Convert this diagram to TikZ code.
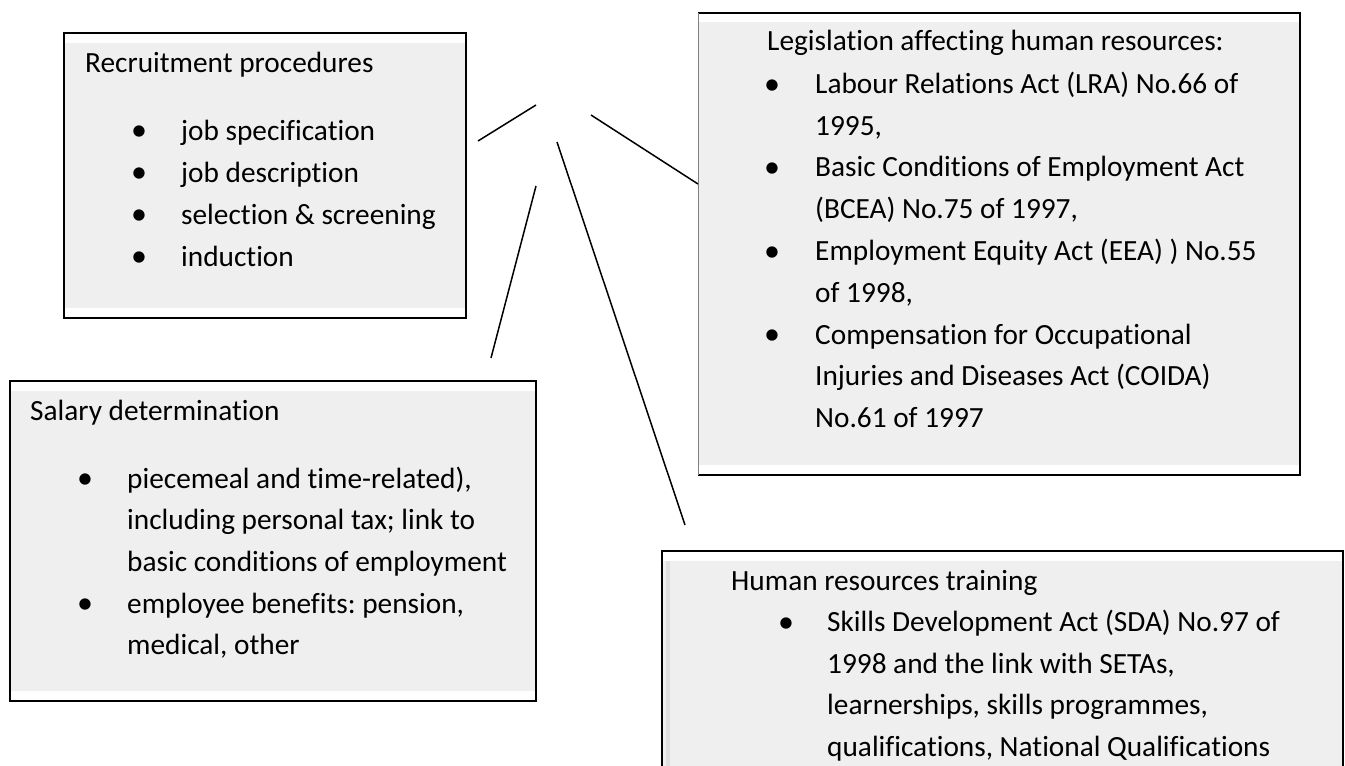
\documentclass[tikz,border=0pt]{standalone}
\usepackage{fontspec}
\setmainfont{Carlito}[Ligatures=NoCommon]
\definecolor{boxgray}{HTML}{EFEFEF}
\definecolor{edgegray}{HTML}{808080}
\frenchspacing
\begin{document}
\begin{tikzpicture}[x=1pt,y=-1pt,
  txt/.style={anchor=base west, inner sep=0pt, font=\fontsize{29.3}{41.8}\selectfont},
  bul/.style={anchor=base, inner sep=0pt, yshift=-0.8pt, font=\fontsize{32}{41.8}\selectfont},
  frame/.style={anchor=north west, inner sep=0pt, outer sep=0pt, draw=none},
  fillbox/.style={anchor=north west, inner sep=0pt, outer sep=0pt, fill=boxgray, draw=none},
  edge/.style={draw=black, line width=2pt},
  conn/.style={draw=black, line width=1.5pt}]
\useasboundingbox (0,0) rectangle (1345,766);
\clip (0,0) rectangle (1345,766);

% ---------- Box 1: Recruitment procedures
\node[fillbox, minimum width=402pt, minimum height=265pt] (f1) at (64,43) {};
\node[frame, minimum width=402pt, minimum height=285pt] (b1) at (64,33) {};
\draw[edge] (b1.north west) rectangle (b1.south east);
\node[txt] (t1) at (85,72) {Recruitment procedures};
\node[bul] (t1b1) at (139,140) {•};
\node[txt] (t1a) at (181,140) {job specification};
\node[bul] (t1b2) at (139,182) {•};
\node[txt] (t1c) at (181,182) {job description};
\node[bul] (t1b3) at (139,224) {•};
\node[txt] (t1d) at (181,224) {selection \& screening};
\node[bul] (t1b4) at (139,266) {•};
\node[txt] (t1e) at (181,266) {induction};

% ---------- Box 2: Salary determination
\node[fillbox, minimum width=526pt, minimum height=300pt] (f2) at (10,391) {};
\node[frame, minimum width=526pt, minimum height=320pt] (b2) at (10,381) {};
\draw[edge] (b2.north west) rectangle (b2.south east);
\node[txt] (t2) at (30,420) {Salary determination};
\node[bul] (t2b1) at (85,488) {•};
\node[txt] (t2a) at (127,488) {piecemeal and time-related),};
\node[txt] (t2c) at (127,529.7) {including personal tax; link to};
\node[txt] (t2d) at (127,571.4) {basic conditions of employment};
\node[bul] (t2b2) at (85,613.1) {•};
\node[txt] (t2e) at (127,613.1) {employee benefits: pension,};
\node[txt] (t2f) at (127,654.8) {medical, other};

% ---------- Box 3: Legislation
\node[fillbox, minimum width=602pt, minimum height=443pt] (f3) at (698,22) {};
\node[frame, minimum width=602pt, minimum height=462pt] (b3) at (698,13) {};
\draw[edge] (b3.north west) -- (b3.north east) -- (b3.south east) -- (b3.south west);
\draw[edgegray, line width=1pt] (b3.south west) -- (b3.north west);
\node[txt] (t3) at (767,50.7) {Legislation affecting human resources:};
\node[bul] (t3b1) at (772,93.3) {•};
\node[txt] (t3a) at (815,93.3) {Labour Relations Act (LRA) No.66 of};
\node[txt] (t3c) at (815,135.1) {1995,};
\node[bul] (t3b2) at (772,176.9) {•};
\node[txt] (t3d) at (815,176.9) {Basic Conditions of Employment Act};
\node[txt] (t3e) at (815,218.7) {(BCEA) No.75 of 1997,};
\node[bul] (t3b3) at (772,260.5) {•};
\node[txt] (t3f) at (815,260.5) {Employment Equity Act (EEA) ) No.55};
\node[txt] (t3g) at (815,302.3) {of 1998,};
\node[bul] (t3b4) at (772,344.1) {•};
\node[txt] (t3h) at (815,344.1) {Compensation for Occupational};
\node[txt] (t3i) at (815,385.9) {Injuries and Diseases Act (COIDA)};
\node[txt] (t3j) at (815,427.7) {No.61 of 1997};

% ---------- Box 4: Human resources training
\node[fillbox, minimum width=681pt, minimum height=300pt] (f4) at (662,561) {};
\node[frame, minimum width=681pt, minimum height=320pt] (b4) at (662,551) {};
\draw[edge] (b4.south west) -- (b4.north west) -- (b4.north east) -- (b4.south east);
\fill[gray!25] ([xshift=4pt]f4.north west) rectangle ([xshift=8pt]f4.south west);
\node[txt] (t4) at (731,590) {Human resources training};
\node[bul] (t4b1) at (786,631.5) {•};
\node[txt] (t4a) at (827,631.5) {Skills Development Act (SDA) No.97 of};
\node[txt] (t4c) at (827,673) {1998 and the link with SETAs,};
\node[txt] (t4d) at (827,714.5) {learnerships, skills programmes,};
\node[txt] (t4e) at (827,756) {qualifications, National Qualifications};

% ---------- Connectors (free lines)
\coordinate (l1a) at (478,141);
\coordinate (l1b) at (536,105);
\coordinate (l2a) at (591,115);
\coordinate (l2b) at (698,184);
\coordinate (l3a) at (536,186);
\coordinate (l3b) at (491,358);
\coordinate (l4a) at (557,142);
\coordinate (l4b) at (685,525);
\draw[conn] (l1a) -- (l1b);
\draw[conn] (l2a) -- (l2b);
\draw[conn] (l3a) -- (l3b);
\draw[conn] (l4a) -- (l4b);
\end{tikzpicture}
\end{document}
